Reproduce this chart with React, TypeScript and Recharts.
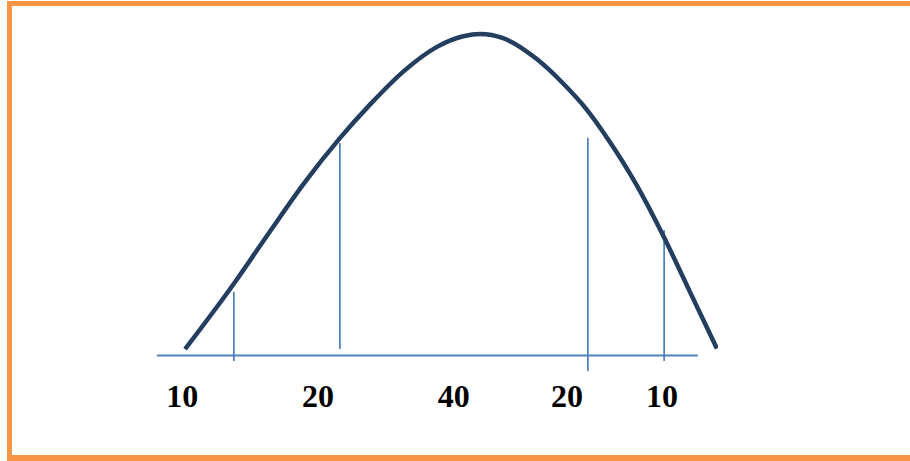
import { ComposedChart, Line, XAxis, YAxis, ReferenceLine } from 'recharts'

// bell curve (x: 0..100 along the base line, y: 0 = base line, 100 = peak)
const curveX = [5.0, 13.6, 20.1, 26.1, 32.6, 38.0, 43.9, 49.9, 54.6, 57.6, 61.7, 67.7, 72.4, 76.6, 80.7, 85.5, 90.2, 95.0, 99.8]
const curveY = [2.0, 22.1, 38.5, 53.3, 67.6, 78.1, 88.3, 96.0, 99.3, 100, 98.7, 92.2, 84.6, 76.5, 66.5, 53.0, 37.4, 19.8, 2.2]

// vertical markers
const markerX = [13.7, 32.6, 76.8, 90.4]
const markerTop = [19.75, 66.1, 67.7, 39.0]
const markerBottom = [-1.7, 2.0, -4.8, -1.7]

// base line
const baseFrom = 0
const baseTo = 96.4

// labels under the base line
const labelX = [4.5, 28.7, 52.9, 73.1, 90.0]
const labels = ['10', '20', '40', '20', '10']

const curveData = curveX.map((x, i) => ({ x, y: curveY[i] }))

const LabelTick = (props: any) => {
    const { x, y, index } = props
    return (
        <text x={x} y={y + 18.85} textAnchor="middle" fill="#000"
            fontFamily="'Liberation Serif', 'Times New Roman', serif" fontWeight="bold" fontSize={32}>
            {labels[index]}
        </text>
    )
}

export default function App() {
    return (
        <div style={{ position: 'absolute', left: 0, top: 0, width: 910, height: 461, overflow: 'hidden', background: '#fff' }}>
            <div style={{
                position: 'absolute', left: 7, top: 1, width: 1000, height: 460, boxSizing: 'border-box',
                borderTop: '5px solid #F79646', borderLeft: '5px solid #F79646', borderBottom: '6px solid #F79646',
            }} />
            <div style={{ position: 'absolute', left: 0, top: 0 }}>
                <ComposedChart width={910} height={461} data={curveData}
                    margin={{ top: 1.85, left: 157, right: 192, bottom: 33.35 }}>
                    <XAxis dataKey="x" type="number" domain={[0, 100]} allowDataOverflow
                        ticks={labelX} interval={0} axisLine={false} tickLine={false}
                        tickSize={0} tickMargin={0} height={40} tick={<LabelTick />} />
                    <YAxis type="number" domain={[-10, 110]} allowDataOverflow hide />
                    <ReferenceLine segment={[{ x: baseFrom, y: 0 }, { x: baseTo, y: 0 }]}
                        stroke="#4F81BD" strokeWidth={2} ifOverflow="visible" />
                    {markerX.map((mx, i) => (
                        <ReferenceLine key={i} segment={[{ x: mx, y: markerBottom[i] }, { x: mx, y: markerTop[i] }]}
                            stroke="#4F81BD" strokeWidth={1.75} ifOverflow="visible" />
                    ))}
                    <Line type="monotone" dataKey="y" stroke="#233E5F" strokeWidth={4.5}
                        dot={false} activeDot={false} isAnimationActive={false} />
                </ComposedChart>
            </div>
        </div>
    )
}
